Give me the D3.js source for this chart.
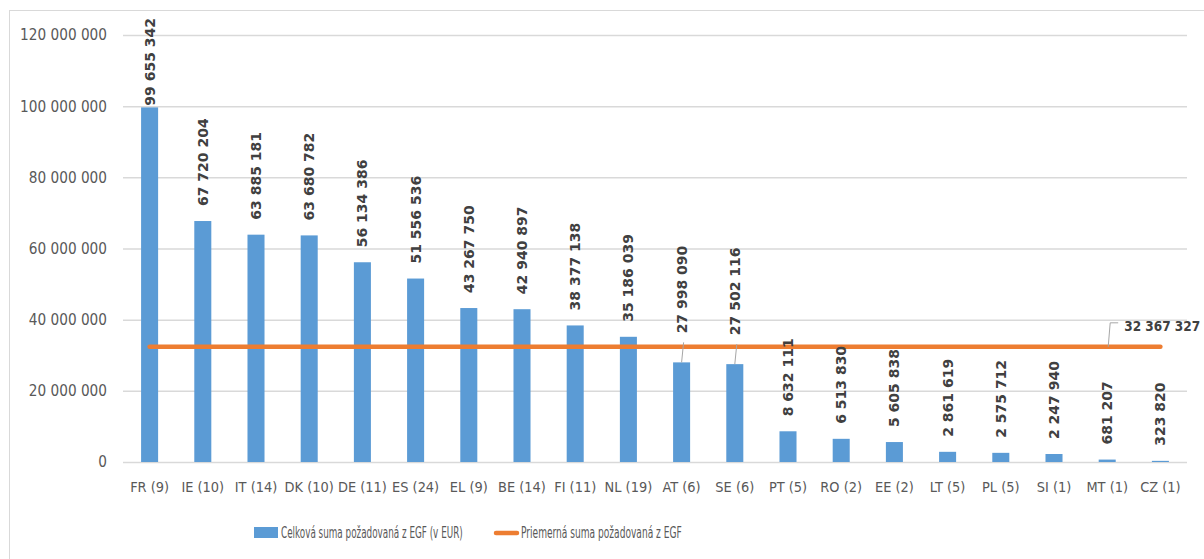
<!DOCTYPE html>
<html>
<head>
<meta charset="utf-8">
<script src="https://cdn.jsdelivr.net/npm/d3@7"></script>
<style>
  html, body { margin: 0; padding: 0; background: #fff; }
  svg { display: block; }
</style>
</head>
<body>
<svg id="chart" width="1204" height="559"></svg>
<script>
const categories = ["FR (9)", "IE (10)", "IT (14)", "DK (10)", "DE (11)", "ES (24)", "EL (9)", "BE (14)", "FI (11)", "NL (19)", "AT (6)", "SE (6)", "PT (5)", "RO (2)", "EE (2)", "LT (5)", "PL (5)", "SI (1)", "MT (1)", "CZ (1)"];
const totals = [99655342, 67720204, 63885181, 63680782, 56134386, 51556536, 43267750, 42940897, 38377138, 35186039, 27998090, 27502116, 8632111, 6513830, 5605838, 2861619, 2575712, 2247940, 681207, 323820];
const average = 32367327;
const yTicks = [0, 20000000, 40000000, 60000000, 80000000, 100000000, 120000000];
const seriesNames = ["Celková suma požadovaná z EGF (v EUR)", "Priemerná suma požadovaná z EGF"];
const leaderLabels = ["AT (6)", "SE (6)"];

const fmt = v => d3.format(",")(v).replace(/,/g, " ");

const svg = d3.select("#chart");
const BLUE = "#5B9BD5", ORANGE = "#ED7D31", GRID = "#D9D9D9", TXT = "#595959", LBL = "#404040";
const FONT = "'Liberation Sans Narrow', 'DejaVu Sans Condensed', sans-serif";

// scale a text's font size so that its rendered width matches a target
function fit(sel, base, target) {
  sel.style("font-size", base + "px");
  const w = sel.node().getComputedTextLength();
  return Math.min(base * target / w, 18);
}

// chart frame
svg.append("rect").attr("x", 9.5).attr("y", 10.5).attr("width", 1300).attr("height", 600)
  .attr("fill", "none").attr("stroke", GRID).attr("stroke-width", 1);

const x = d3.scaleBand().domain(categories).range([123, 1187]).paddingInner(0.68).paddingOuter(0.34);
const y = d3.scaleLinear().domain([0, 120000000]).range([462, 35]);

// gridlines + y labels
const yAxis = d3.axisLeft(y).tickValues(yTicks).tickFormat(fmt).tickSize(-(1187 - 123)).tickPadding(16);
const gy = svg.append("g").attr("transform", "translate(123,0)").call(yAxis);
gy.select(".domain").remove();
gy.selectAll(".tick line").attr("stroke", GRID).attr("stroke-width", 1.5);
const yt = gy.selectAll(".tick text").attr("fill", TXT).style("font-family", FONT);
const ySize = fit(yt.filter(d => d === 120000000), 14, 87);
yt.style("font-size", ySize + "px");

// x labels
const xAxis = d3.axisBottom(x).tickSize(0).tickPadding(20);
const gx = svg.append("g").attr("transform", "translate(0,462)").call(xAxis);
gx.select(".domain").remove();
const xt = gx.selectAll(".tick text").attr("fill", TXT).style("font-family", FONT);
const xSize = fit(xt.filter(d => d === "FR (9)"), 14, 39);
xt.style("font-size", xSize + "px");

// bars
svg.append("g").selectAll("rect").data(categories).join("rect")
  .attr("x", d => x(d)).attr("width", x.bandwidth())
  .attr("y", (d, i) => y(totals[i])).attr("height", (d, i) => y(0) - y(totals[i]))
  .attr("fill", BLUE);

// average line
const cx = d => x(d) + x.bandwidth() / 2;
svg.append("line")
  .attr("x1", cx(categories[0])).attr("x2", cx(categories[categories.length - 1]))
  .attr("y1", y(average)).attr("y2", y(average))
  .attr("stroke", ORANGE).attr("stroke-width", 4.5).attr("stroke-linecap", "round");

// data labels
const lg = svg.append("g");
categories.forEach((c, i) => {
  const top = y(totals[i]);
  const px = cx(c);
  const t = lg.append("text")
    .attr("text-anchor", "start").attr("dy", "0.36em")
    .attr("fill", LBL).style("font-family", "'DejaVu Sans', sans-serif").style("font-weight", "bold").style("font-size", "14px")
    .text(fmt(totals[i]));
  const len = t.node().getComputedTextLength();
  let start = top - 15;
  if (leaderLabels.includes(c)) {
    start = top - 29;
    lg.append("line").attr("x1", px).attr("y1", top).attr("x2", px + 2).attr("y2", top - 20)
      .attr("stroke", "#A6A6A6").attr("stroke-width", 1);
  }
  if (start - len < 18) start = 18 + len;
  t.attr("transform", `translate(${px},${start}) rotate(-90)`);
});

// average label with leader
const ay = y(average);
const lx = cx(categories[categories.length - 2]) + 1;
svg.append("path").attr("d", `M${lx},${ay} L${lx + 2},${ay - 24} L${lx + 10},${ay - 24}`)
  .attr("fill", "none").attr("stroke", "#A6A6A6").attr("stroke-width", 1);
const at = svg.append("text").attr("x", lx + 16).attr("y", ay - 16)
  .attr("fill", LBL).style("font-family", FONT).style("font-weight", "bold")
  .text(fmt(average));
at.style("font-size", fit(at, 16, 76) + "px");

// legend (text narrowed horizontally to match the reference's condensed face)
function legendText(str, x0, y0, target) {
  const t = svg.append("text").attr("x", 0).attr("y", 0).attr("fill", TXT)
    .style("font-family", FONT).style("font-size", "15px").text(str);
  const w = t.node().getComputedTextLength();
  t.attr("transform", `translate(${x0},${y0}) scale(${Math.min(1, target / w)},1)`);
}
svg.append("rect").attr("x", 254).attr("y", 527).attr("width", 24).attr("height", 11).attr("fill", BLUE);
legendText(seriesNames[0], 281, 538, 182);
svg.append("line").attr("x1", 496).attr("x2", 517).attr("y1", 533).attr("y2", 533)
  .attr("stroke", ORANGE).attr("stroke-width", 4.5).attr("stroke-linecap", "round");
legendText(seriesNames[1], 521, 538, 161);
</script>
</body>
</html>
